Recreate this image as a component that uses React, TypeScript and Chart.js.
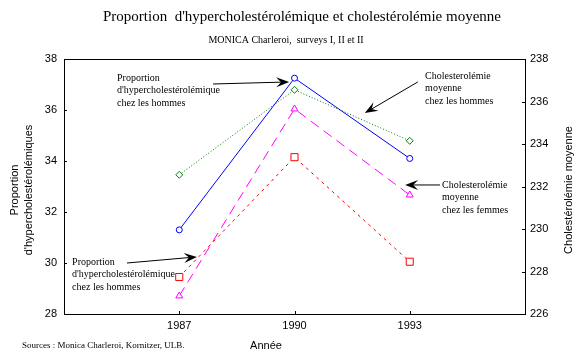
import React, { useEffect, useRef } from "react";
import { Chart, registerables } from "chart.js";

Chart.register(...registerables);

// ---- data ----
const years = [1987, 1990, 1993];
const propHommes = [31.3, 37.25, 34.1]; // left axis, blue
const propFemmes = [29.45, 34.15, 30.05]; // left axis, red
const cholHommes = [232.55, 236.55, 234.15]; // right axis, green
const cholFemmes = [226.85, 235.65, 231.6]; // right axis, magenta
const leftTicks = [28, 30, 32, 34, 36, 38];
const rightTicks = [226, 228, 230, 232, 234, 236, 238];
const xTicks = [1987, 1990, 1993];

const titleText = "Proportion  d'hypercholestérolémique et cholestérolémie moyenne";
const subtitleText = "MONICA Charleroi,  surveys I, II et II";
const leftTitle = ["Proportion", "d'hypercholestérolémiques"];
const rightTitle = "Cholestérolémie moyenne";
const xTitle = "Année";
const sourceText = "Sources : Monica Charleroi, Kornitzer, ULB.";

// annotations anchored in data units (x: year, y: left-axis value)
const annotations = [
  { lines: ["Proportion", "d'hypercholestérolémique", "chez les hommes"], tx: 1985.38, ty: 37.25, from: [1987.88, 37.02], to: [1989.86, 37.1] },
  { lines: ["Cholesterolémie", "moyenne", "chez les hommes"], tx: 1993.4, ty: 37.33, from: [1993.21, 37.1], to: [1991.83, 35.88] },
  { lines: ["Cholesterolémie", "moyenne", "chez les femmes"], tx: 1993.84, ty: 33.06, from: [1993.79, 33.06], to: [1992.88, 33.06] },
  { lines: ["Proportion", "d'hypercholestérolémique", "chez les hommes"], tx: 1984.21, ty: 30.04, from: [1985.64, 30.0], to: [1987.46, 30.24] },
];

const serif = '"Liberation Serif", "Times New Roman", serif';
const sans = '"Liberation Sans", Arial, sans-serif';

const pts = (vals: number[]) => years.map((x, i) => ({ x, y: vals[i] }));

function drawArrow(ctx: CanvasRenderingContext2D, x1: number, y1: number, x2: number, y2: number) {
  const ang = Math.atan2(y2 - y1, x2 - x1);
  const len = 13;
  const half = 5;
  const notch = 8;
  ctx.save();
  ctx.strokeStyle = "#000";
  ctx.fillStyle = "#000";
  ctx.lineWidth = 1;
  ctx.beginPath();
  ctx.moveTo(x1, y1);
  ctx.lineTo(x2 - Math.cos(ang) * notch, y2 - Math.sin(ang) * notch);
  ctx.stroke();
  const bx = x2 - Math.cos(ang) * len;
  const by = y2 - Math.sin(ang) * len;
  const nx = x2 - Math.cos(ang) * notch;
  const ny = y2 - Math.sin(ang) * notch;
  const px = -Math.sin(ang) * half;
  const py = Math.cos(ang) * half;
  ctx.beginPath();
  ctx.moveTo(x2, y2);
  ctx.lineTo(bx + px, by + py);
  ctx.lineTo(nx, ny);
  ctx.lineTo(bx - px, by - py);
  ctx.closePath();
  ctx.fill();
  ctx.restore();
}

const decorPlugin = {
  id: "decor",
  afterDraw(chart: any) {
    const ctx: CanvasRenderingContext2D = chart.ctx;
    const { left, right, top, bottom } = chart.chartArea;
    const xs = chart.scales.x;
    const yl = chart.scales.y;
    const yr = chart.scales.y1;
    ctx.save();
    // frame top
    ctx.strokeStyle = "#000";
    ctx.lineWidth = 1;
    ctx.beginPath();
    ctx.moveTo(left, Math.round(top) + 0.5);
    ctx.lineTo(right, Math.round(top) + 0.5);
    ctx.stroke();
    // inward tick marks
    ctx.beginPath();
    leftTicks.forEach((v) => {
      const y = Math.round(yl.getPixelForValue(v)) + 0.5;
      ctx.moveTo(left, y);
      ctx.lineTo(left + 3, y);
    });
    rightTicks.forEach((v) => {
      const y = Math.round(yr.getPixelForValue(v)) + 0.5;
      ctx.moveTo(right, y);
      ctx.lineTo(right - 3, y);
    });
    xTicks.forEach((v) => {
      const x = Math.round(xs.getPixelForValue(v)) + 0.5;
      ctx.moveTo(x, bottom);
      ctx.lineTo(x, bottom - 3);
    });
    ctx.stroke();

    ctx.fillStyle = "#000";
    ctx.textBaseline = "middle";
    // title
    ctx.textAlign = "center";
    ctx.font = `15px ${serif}`;
    ctx.fillText(titleText, 302, 17);
    ctx.font = `10px ${serif}`;
    ctx.fillText(subtitleText, 286, 40);
    // axis titles
    ctx.font = `11px ${sans}`;
    ctx.save();
    ctx.translate(15, 190);
    ctx.rotate(-Math.PI / 2);
    ctx.fillText(leftTitle[0], 0, 0);
    ctx.fillText(leftTitle[1], 0, 14);
    ctx.restore();
    ctx.save();
    ctx.translate(569, 190);
    ctx.rotate(-Math.PI / 2);
    ctx.fillText(rightTitle, 0, 0);
    ctx.restore();
    ctx.fillText(xTitle, 266, 346);
    ctx.textAlign = "left";
    ctx.font = `9px ${serif}`;
    ctx.fillText(sourceText, 22, 346);

    // annotations
    annotations.forEach((a) => {
      const tx = xs.getPixelForValue(a.tx);
      const ty = yl.getPixelForValue(a.ty);
      ctx.font = `10px ${serif}`;
      ctx.textAlign = "left";
      a.lines.forEach((l, i) => ctx.fillText(l, tx, ty + i * 12.5));
      drawArrow(
        ctx,
        xs.getPixelForValue(a.from[0]),
        yl.getPixelForValue(a.from[1]),
        xs.getPixelForValue(a.to[0]),
        yl.getPixelForValue(a.to[1])
      );
    });
    ctx.restore();
  },
};

export default function App() {
  const ref = useRef<HTMLCanvasElement | null>(null);
  useEffect(() => {
    if (!ref.current) return;
    const chart = new Chart(ref.current, {
      type: "line",
      data: {
        datasets: [
          {
            label: "Proportion hommes",
            data: pts(propHommes),
            yAxisID: "y",
            borderColor: "#0000ff",
            borderWidth: 1,
            pointStyle: "circle",
            pointRadius: 3,
            pointBorderColor: "#0000ff",
            pointBackgroundColor: "#ffffff",
            pointBorderWidth: 1,
          },
          {
            label: "Proportion femmes",
            data: pts(propFemmes),
            yAxisID: "y",
            borderColor: "#ff0000",
            borderWidth: 1,
            borderDash: [3, 4],
            pointStyle: "rect",
            pointRadius: 5,
            pointBorderColor: "#ff0000",
            pointBackgroundColor: "#ffffff",
            pointBorderWidth: 1,
          },
          {
            label: "Cholestérolémie hommes",
            data: pts(cholHommes),
            yAxisID: "y1",
            borderColor: "#008000",
            borderWidth: 1,
            borderDash: [1, 2],
            pointStyle: "rectRot",
            pointRadius: 3.5,
            pointBorderColor: "#008000",
            pointBackgroundColor: "#ffffff",
            pointBorderWidth: 1,
          },
          {
            label: "Cholestérolémie femmes",
            data: pts(cholFemmes),
            yAxisID: "y1",
            borderColor: "#ff00ff",
            borderWidth: 1,
            borderDash: [10, 6],
            pointStyle: "triangle",
            pointRadius: 4,
            pointBorderColor: "#ff00ff",
            pointBackgroundColor: "#ffffff",
            pointBorderWidth: 1,
          },
        ],
      },
      options: {
        responsive: false,
        animation: false,
        layout: { padding: { top: 59, bottom: 27, left: 0, right: 0 } },
        plugins: { legend: { display: false }, tooltip: { enabled: false } },
        scales: {
          x: {
            type: "linear",
            min: 1984,
            max: 1996,
            afterBuildTicks: (s: any) => {
              s.ticks = xTicks.map((v) => ({ value: v }));
            },
            afterFit: (s: any) => {
              s.height = 20;
            },
            grid: { display: false, drawTicks: false },
            border: { display: true, color: "#000", width: 1 },
            ticks: {
              color: "#000",
              font: { family: sans, size: 11 },
              padding: 5,
              callback: (v: any) => String(v),
            },
          },
          y: {
            type: "linear",
            position: "left",
            min: 28,
            max: 38,
            afterBuildTicks: (s: any) => {
              s.ticks = leftTicks.map((v) => ({ value: v }));
            },
            afterFit: (s: any) => {
              s.width = 64;
            },
            grid: { display: false, drawTicks: false },
            border: { display: true, color: "#000", width: 1 },
            ticks: {
              color: "#000",
              font: { family: sans, size: 11 },
              padding: 7,
              callback: (v: any) => String(v),
            },
          },
          y1: {
            type: "linear",
            position: "right",
            min: 226,
            max: 238,
            afterBuildTicks: (s: any) => {
              s.ticks = rightTicks.map((v) => ({ value: v }));
            },
            afterFit: (s: any) => {
              s.width = 53;
            },
            grid: { display: false, drawTicks: false },
            border: { display: true, color: "#000", width: 1 },
            ticks: {
              color: "#000",
              font: { family: sans, size: 11 },
              padding: 5,
              callback: (v: any) => String(v),
            },
          },
        },
      },
      plugins: [decorPlugin],
    } as any);
    return () => chart.destroy();
  }, []);
  return (
    <div style={{ position: "fixed", left: 0, top: 0, width: 578, height: 361, background: "#fff" }}>
      <canvas ref={ref} width={578} height={361} style={{ display: "block" }} />
    </div>
  );
}
